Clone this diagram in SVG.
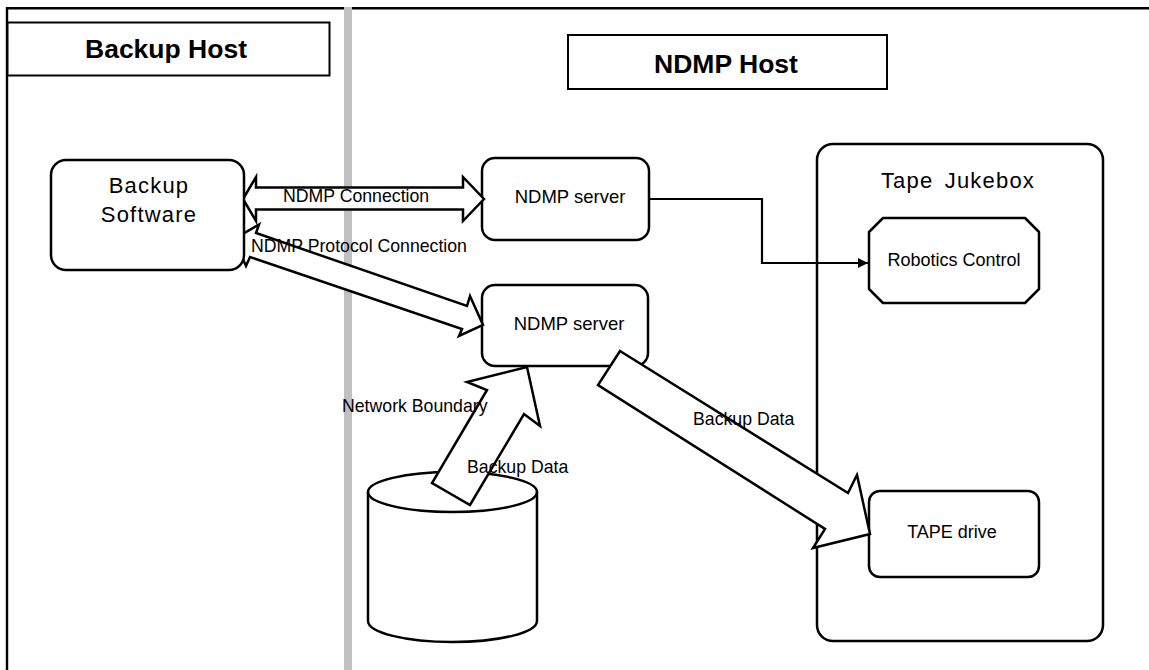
<svg xmlns="http://www.w3.org/2000/svg" width="1149" height="670" viewBox="0 0 1149 670">
<style>
  .frame{fill:none;stroke:#000;stroke-width:2.4}
  .box{fill:#fff;stroke:#000;stroke-width:2.5;stroke-linejoin:round}
  .hdr{fill:#fff;stroke:#000;stroke-width:2}
  .arr{fill:#fff;stroke:#000;stroke-width:2.5;stroke-linejoin:miter}
  .line{fill:none;stroke:#000;stroke-width:2.2}
  text{font-family:"Liberation Sans",Arial,sans-serif;fill:#000}
  .h{font-size:26.5px;font-weight:bold;text-anchor:middle}
  .big{font-size:22px;letter-spacing:1.2px;text-anchor:middle}
  .n{font-size:18.5px;text-anchor:middle}
  .lbl{font-size:17.7px}
</style>
<defs>
  <marker id="tri" viewBox="0 0 10 10" refX="10" refY="5" markerUnits="userSpaceOnUse" markerWidth="11" markerHeight="10" orient="auto">
    <path d="M0,0 L10,5 L0,10 Z" fill="#000"/>
  </marker>
</defs>
<rect width="1149" height="670" fill="#fff"/>
<g id="frame">
  <path class="frame" d="M7,670 V8.3 H1149"/>
  <rect x="344" y="7" width="8" height="663" fill="#c0c0c0"/>
</g>
<g id="backup-host-header">
  <rect class="hdr" x="7.5" y="22.5" width="322" height="53"/>
  <text class="h" x="166" y="58">Backup Host</text>
</g>
<g id="ndmp-host-header">
  <rect class="hdr" x="568" y="35" width="319" height="54"/>
  <text class="h" x="726" y="73">NDMP Host</text>
</g>
<g id="tape-jukebox">
  <rect class="box" x="817" y="144" width="286" height="497" rx="16" ry="16"/>
  <text class="big" x="958" y="188" word-spacing="4">Tape Jukebox</text>
</g>
<g id="robotics-control">
  <polygon class="box" points="883,218 1025,218 1039,232 1039,289 1025,303 883,303 869,289 869,232"/>
  <text class="n" x="954" y="266" style="font-size:18px">Robotics Control</text>
</g>
<g id="tape-drive">
  <rect class="box" x="869" y="491" width="170" height="86" rx="11" ry="11"/>
  <text class="n" x="952" y="538" style="font-size:18px">TAPE drive</text>
</g>
<g id="ndmp-server-1">
  <rect class="box" x="482" y="158" width="167" height="82" rx="13" ry="13"/>
  <text class="n" x="570" y="203">NDMP server</text>
</g>
<g id="ndmp-server-2">
  <rect class="box" x="482" y="285" width="166" height="81" rx="13" ry="13"/>
  <text class="n" x="569" y="330">NDMP server</text>
</g>
<g id="disk">
  <path class="box" d="M368,492 A84.5,20 0 0 1 537,492 L537,621 A84.5,21 0 0 1 368,621 Z"/>
  <path class="line" style="stroke-width:2.5" d="M368,492 A84.5,20 0 0 0 537,492"/>
</g>
<g id="connectors">
  <polyline class="line" points="649,199 762,199 762,263 868,263" marker-end="url(#tri)"/>
  <polygon class="arr" points="243,199 256,177 256,187.5 463,187.5 463,177 484,199 463,221 463,209.5 256,209.5 256,221"/>
  <polygon class="arr" points="234,239 259,224.5 256,233 467,306 470,296 483,325 459,336 462,329 250,257 246,266"/>
  <polygon class="arr" points="527,367 540,426 524,414 470,505 432,483 487,390 467,382"/>
  <polygon class="arr" points="620,351 848,493 857,475 870,534 813,548 825,529 598,385"/>
</g>
<g id="backup-software">
  <rect class="box" x="51" y="160" width="193" height="110" rx="15" ry="15"/>
  <text class="big" x="149" y="193">Backup</text>
  <text class="big" x="149" y="222">Software</text>
</g>
<g id="labels">
  <text class="lbl" x="283" y="202">NDMP Connection</text>
  <text class="lbl" x="251" y="252">NDMP Protocol Connection</text>
  <text class="lbl" x="342" y="412">Network Boundary</text>
  <text class="lbl" x="467" y="473">Backup Data</text>
  <text class="lbl" x="693" y="425">Backup Data</text>
</g>
</svg>
